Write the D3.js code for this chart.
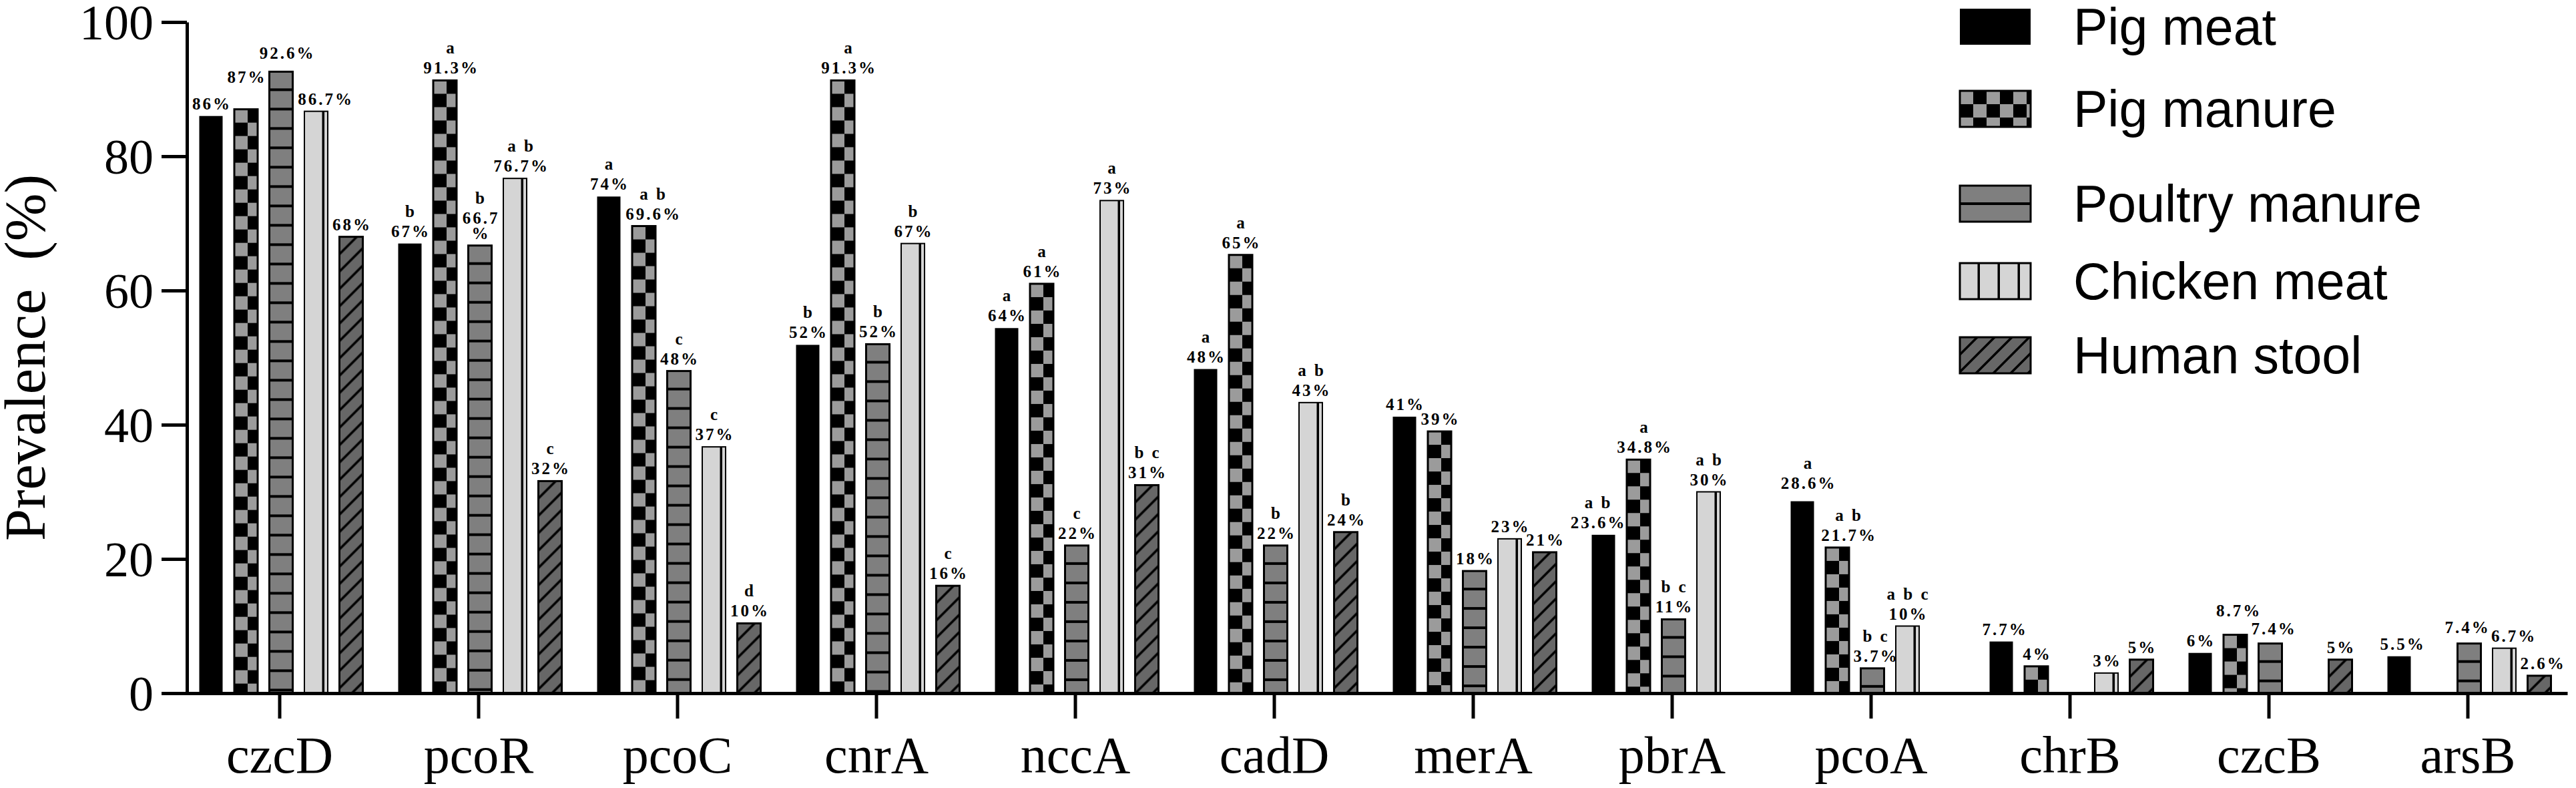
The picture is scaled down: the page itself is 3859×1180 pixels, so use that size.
<!DOCTYPE html>
<html>
<head>
<meta charset="utf-8">
<script src="https://cdn.jsdelivr.net/npm/d3@7"></script>
<style>
  html, body { margin: 0; padding: 0; background: #fff; }
  svg { display: block; }
</style>
</head>
<body>
<svg id="chart" width="3859" height="1180"></svg>
<script>
// ---------------- DATA ----------------
const categories = ["czcD","pcoR","pcoC","cnrA","nccA","cadD","merA","pbrA","pcoA","chrB","czcB","arsB"];
const seriesNames = ["Pig meat","Pig manure","Poultry manure","Chicken meat","Human stool"];

const pigMeat       = [86, 67, 74, 51.9, 54.4, 48.3, 41.2, 23.6, 28.6, 7.7, 6, 5.5];
const pigManure     = [87, 91.3, 69.6, 91.3, 61, 65.3, 39, 34.8, 21.7, 4, 8.7, null];
const poultryManure = [92.6, 66.7, 48, 52, 22, 22, 18.2, 11, 3.7, null, 7.4, 7.4];
const chickenMeat   = [86.7, 76.7, 36.7, 67, 73.4, 43.3, 23, 30, 10, 3, null, 6.7];
const humanStool    = [68, 31.6, 10.4, 16, 31, 24, 21, null, null, 5, 5, 2.6];

const pigMeatLabels       = ["86%","67%","74%","52%","64%","48%","41%","23.6%","28.6%","7.7%","6%","5.5%"];
const pigManureLabels     = ["87%","91.3%","69.6%","91.3%","61%","65%","39%","34.8%","21.7%","4%","8.7%",null];
const poultryManureLabels = ["92.6%","66.7\n%","48%","52%","22%","22%","18%","11%","3.7%",null,"7.4%","7.4%"];
const chickenMeatLabels   = ["86.7%","76.7%","37%","67%","73%","43%","23%","30%","10%","3%",null,"6.7%"];
const humanStoolLabels    = ["68%","32%","10%","16%","31%","24%","21%",null,null,"5%","5%","2.6%"];

const pigMeatLetters       = ["","b","a","b","a","a","","a b","a","","",""];
const pigManureLetters     = ["","a","a b","a","a","a","","a","a b","","",""];
const poultryManureLetters = ["","b","c","b","c","b","","b c","b c","","",""];
const chickenMeatLetters   = ["","a b","c","b","a","a b","","a b","a b c","","",""];
const humanStoolLetters    = ["","c","d","c","b c","b","","","","","",""];

const yTicks = [0, 20, 40, 60, 80, 100];
const yTitle = "Prevalence  (%)";

// ---------------- LAYOUT ----------------
const seriesValues  = [pigMeat, pigManure, poultryManure, chickenMeat, humanStool];
const seriesLabels  = [pigMeatLabels, pigManureLabels, poultryManureLabels, chickenMeatLabels, humanStoolLabels];
const seriesLetters = [pigMeatLetters, pigManureLetters, poultryManureLetters, chickenMeatLetters, humanStoolLetters];

const fills = ["#000", "url(#checker)", "url(#hlines)", "url(#vlines)", "url(#diag)"];
const strokeW = [0, 3, 3, 2, 3];

const serif = "'Liberation Serif', 'Times New Roman', Times, serif";
const sans = "'Liberation Sans', Arial, Helvetica, sans-serif";

const svg = d3.select("#chart");
const defs = svg.append("defs");

// checkerboard
const pc = defs.append("pattern").attr("id","checker").attr("patternUnits","userSpaceOnUse")
  .attr("width",40).attr("height",40);
pc.append("rect").attr("width",40).attr("height",40).attr("fill","#000");
pc.append("rect").attr("x",0).attr("y",0).attr("width",20).attr("height",20).attr("fill","#9b9b9b");
pc.append("rect").attr("x",20).attr("y",20).attr("width",20).attr("height",20).attr("fill","#9b9b9b");

// horizontal lines
const ph = defs.append("pattern").attr("id","hlines").attr("patternUnits","userSpaceOnUse")
  .attr("width",40).attr("height",29);
ph.append("rect").attr("width",40).attr("height",29).attr("fill","#7f7f7f");
ph.append("rect").attr("x",0).attr("y",25).attr("width",40).attr("height",4).attr("fill","#000");

// vertical lines
const pv = defs.append("pattern").attr("id","vlines").attr("patternUnits","userSpaceOnUse")
  .attr("width",30).attr("height",20);
pv.append("rect").attr("width",30).attr("height",20).attr("fill","#d5d5d5");
pv.append("rect").attr("x",26.5).attr("y",0).attr("width",4).attr("height",20).attr("fill","#000");

// diagonal lines
const P = 26;
const pd = defs.append("pattern").attr("id","diag").attr("patternUnits","userSpaceOnUse")
  .attr("width",P).attr("height",P);
pd.append("rect").attr("width",P).attr("height",P).attr("fill","#676767");
pd.append("path")
  .attr("d",`M0,${P} L${P},0 M${-P/4},${P/4} L${P/4},${-P/4} M${3*P/4},${5*P/4} L${5*P/4},${3*P/4}`)
  .attr("stroke","#000").attr("stroke-width",3.5);

const y = d3.scaleLinear().domain([0, 100]).range([1038, 33]);
const x0 = d3.scaleBand().domain(categories).range([270, 3846]);
const x1 = d3.scaleBand().domain(seriesNames).range([-129.25, 133.25]).paddingInner(1/3).paddingOuter(1/6);

// ---------------- BARS ----------------
const bars = [];
seriesNames.forEach((s, j) => {
  categories.forEach((c, i) => {
    const v = seriesValues[j][i];
    if (v == null) return;
    bars.push({s, j, c, i, v, label: seriesLabels[j][i], letters: seriesLetters[j][i]});
  });
});

const gBars = svg.append("g");
const barG = gBars.selectAll("g.bar").data(bars).join("g").attr("class","bar")
  .attr("transform", d => `translate(${x0(d.c) + x0.bandwidth()/2 + x1(d.s)},${y(d.v)})`);
barG.append("rect")
  .attr("x", 0).attr("y", 0)
  .attr("width", x1.bandwidth())
  .attr("height", d => y(0) - y(d.v))
  .attr("fill", d => fills[d.j])
  .attr("stroke", d => strokeW[d.j] ? "#000" : "none")
  .attr("stroke-width", d => strokeW[d.j]);

// ---------------- AXES ----------------
const yAxis = svg.append("g").attr("transform","translate(280,0)")
  .call(d3.axisLeft(y).tickValues(yTicks).tickSize(38).tickPadding(12).tickSizeOuter(0));
yAxis.select(".domain").attr("stroke-width",5).attr("stroke","#000");
yAxis.selectAll(".tick line").attr("stroke-width",5).attr("stroke","#000");
yAxis.selectAll(".tick text").attr("font-family",serif).attr("font-size",74).attr("fill","#000").attr("dy","0.34em");

const xAxis = svg.append("g").attr("transform",`translate(0,${y(0)})`)
  .call(d3.axisBottom(x0).tickSize(38).tickSizeOuter(0));
xAxis.select(".domain").attr("stroke-width",5).attr("stroke","#000");
xAxis.selectAll(".tick line").attr("stroke-width",5).attr("stroke","#000");
xAxis.selectAll(".tick text").attr("font-family",serif).attr("font-size",78).attr("fill","#000")
  .attr("y",119).attr("dy",0);

svg.append("text")
  .attr("transform",`translate(67,${(y(0)+y(100))/2}) rotate(-90)`)
  .attr("text-anchor","middle")
  .attr("font-family",serif).attr("font-size",86)
  .style("white-space","pre")
  .text(yTitle);

// ---------------- VALUE LABELS ----------------
// label placement nudges (px): vertical lift and horizontal shift
const lift = {"Pig manure|czcD": 30, "Poultry manure|czcD": 9, "Pig meat|pcoA": 9,
              "Pig manure|czcB": 18, "Poultry manure|czcB": 4, "Poultry manure|arsB": 6};
const shift = {"Pig meat|pbrA": -17, "Pig manure|pcoA": 8, "Pig manure|pcoC": 5, "Chicken meat|czcD": 5,
               "Poultry manure|pcoR": -4, "Poultry manure|arsB": -8, "Chicken meat|arsB": 9};
const LS = 3;
const gLab = svg.append("g").attr("font-family",serif).attr("font-weight","bold")
  .attr("font-size",25).attr("letter-spacing",LS).attr("text-anchor","middle").attr("fill","#000");
bars.filter(d => d.label).forEach(d => {
  const key = d.s + "|" + d.c;
  const lines = d.label.split("\n");
  const n = d3.max(lines, t => t.length);
  const cx = x0(d.c) + x0.bandwidth()/2 + x1(d.s) + x1.bandwidth()/2 + LS/2
           + Math.max(0, n - 3) * 4 + (shift[key] || 0);
  const base = y(d.v) - 10 - (lift[key] || 0);
  lines.forEach((t, k) => {
    gLab.append("text").attr("x", cx).attr("y", base - (lines.length - 1 - k) * 23).text(t);
  });
  if (d.letters) {
    gLab.append("text").attr("x", cx).attr("y", base - (lines.length - 1) * 23 - 30)
      .style("white-space","pre").text(d.letters);
  }
});

// ---------------- LEGEND ----------------
const legendRowTop = [13, 136, 278, 394, 505];
const lg = svg.append("g");
seriesNames.forEach((s, j) => {
  const g = lg.append("g").attr("transform",`translate(2936,${legendRowTop[j]})`);
  g.append("rect").attr("width",106).attr("height",54)
    .attr("fill", fills[j]).attr("stroke","#000").attr("stroke-width", j === 0 ? 0 : 3);
  g.append("text").attr("x",170).attr("y",54)
    .attr("font-family",sans).attr("font-size",77).attr("fill","#000").text(s);
});
</script>
</body>
</html>
